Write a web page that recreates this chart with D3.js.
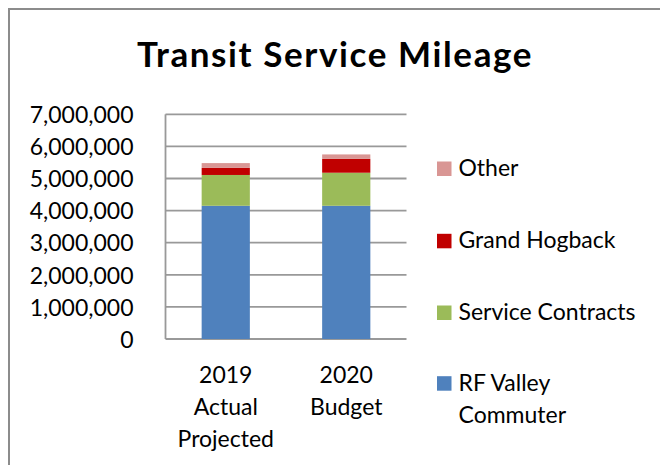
<!DOCTYPE html>
<html>
<head>
<meta charset="utf-8">
<script src="https://cdn.jsdelivr.net/npm/d3@7"></script>
<style>
  html, body { margin: 0; padding: 0; background: #fff; }
  svg { display: block; }
  text { font-family: Lato, "Open Sans", sans-serif; fill: #000; }
</style>
</head>
<body>
<svg id="chart" width="660" height="465"></svg>
<script>
const categories = [["2019", "Actual", "Projected"], ["2020", "Budget"]];
const seriesNames = ["RF Valley Commuter", "Service Contracts", "Grand Hogback", "Other"];
const rfValleyCommuter = [4150000, 4150000];
const serviceContracts = [960000, 1030000];
const grandHogback = [220000, 430000];
const other = [150000, 140000];
const yTicks = [0, 1000000, 2000000, 3000000, 4000000, 5000000, 6000000, 7000000];
const legendLabels = [["Other"], ["Grand Hogback"], ["Service Contracts"], ["RF Valley", "Commuter"]];

const colors = { "RF Valley Commuter": "#4F81BD", "Service Contracts": "#9BBB59", "Grand Hogback": "#C00000", "Other": "#D99694" };
const legendColorKey = ["Other", "Grand Hogback", "Service Contracts", "RF Valley Commuter"];

const svg = d3.select("#chart");

// outer chart border
svg.append("path")
  .attr("d", "M9,465 L9,9 L660,9")
  .attr("fill", "none").attr("stroke", "#8c8c8c").attr("stroke-width", 2);

// title
svg.append("text")
  .attr("x", 335).attr("y", 67)
  .attr("text-anchor", "middle")
  .style("font-weight", "bold").style("font-size", "35px").style("letter-spacing", "1.6px")
  .text("Transit Service Mileage");

const plot = { left: 165.5, right: 406.5, top: 114.3, bottom: 339 };

const keys = categories.map(c => c.join(" "));
const rows = keys.map((k, i) => ({
  key: k,
  "RF Valley Commuter": rfValleyCommuter[i],
  "Service Contracts": serviceContracts[i],
  "Grand Hogback": grandHogback[i],
  "Other": other[i]
}));

const x = d3.scaleBand().domain(keys).range([plot.left, plot.right]).paddingInner(0.6).paddingOuter(0.3);
const y = d3.scaleLinear().domain([0, 7000000]).range([plot.bottom, plot.top]);

// gridlines
svg.append("g").selectAll("line").data(yTicks).join("line")
  .attr("x1", plot.left).attr("x2", plot.right)
  .attr("y1", d => y(d)).attr("y2", d => y(d))
  .attr("stroke", "#999").attr("stroke-width", 1.8);

// y axis line
svg.append("line")
  .attr("x1", plot.left).attr("x2", plot.left)
  .attr("y1", plot.top).attr("y2", plot.bottom)
  .attr("stroke", "#999").attr("stroke-width", 1.8);

// y axis labels
const yAxis = d3.axisLeft(y).tickValues(yTicks).tickSize(0).tickPadding(0)
  .tickFormat(d => d === 0 ? "0" : d3.format(",")(d));
const yg = svg.append("g").attr("transform", `translate(${133.5},0)`).call(yAxis);
yg.select(".domain").remove();
yg.selectAll("text").style("font-size", "23px").style("font-family", "Lato, sans-serif").attr("fill", "#000").attr("dy", "0.36em");

// stacked bars
const stack = d3.stack().keys(seriesNames)(rows);
svg.append("g").selectAll("g").data(stack).join("g")
  .attr("fill", d => colors[d.key])
  .selectAll("rect").data(d => d).join("rect")
  .attr("x", d => x(d.data.key))
  .attr("width", x.bandwidth())
  .attr("y", d => y(d[1]))
  .attr("height", d => y(d[0]) - y(d[1]));

// x axis category labels
const xg = svg.append("g");
categories.forEach((lines, i) => {
  const t = xg.append("text")
    .attr("x", x(keys[i]) + x.bandwidth() / 2)
    .attr("y", 383)
    .attr("text-anchor", "middle")
    .style("font-size", "23px");
  lines.forEach((l, j) => t.append("tspan").attr("x", x(keys[i]) + x.bandwidth() / 2).attr("y", 383 + j * 32).text(l));
});

// legend
const legendBaselines = [176, 248.3, 320, 390.7];
const lg = svg.append("g");
legendLabels.forEach((lines, i) => {
  const b = legendBaselines[i];
  lg.append("rect")
    .attr("x", 437).attr("y", b - 14.5).attr("width", 14.5).attr("height", 14.5)
    .attr("fill", colors[legendColorKey[i]]);
  const t = lg.append("text").style("font-size", "23px");
  lines.forEach((l, j) => t.append("tspan").attr("x", 458.5).attr("y", b + j * 32).text(l));
});
</script>
</body>
</html>
